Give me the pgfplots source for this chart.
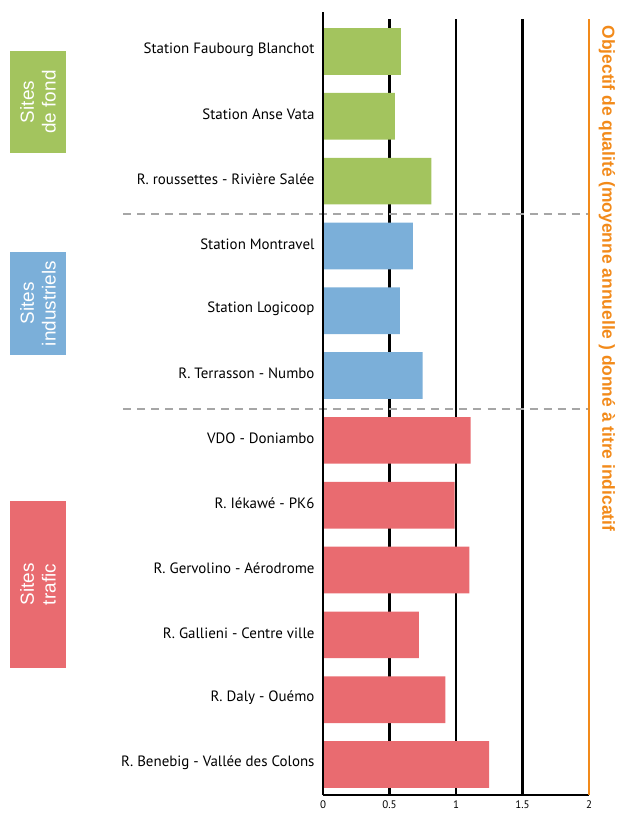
\documentclass[border=0pt]{standalone}
\usepackage{fontspec}
\setmainfont{PT Sans}
\newfontfamily\boxfont{Liberation Sans}
\usepackage{pgfplots}
\pgfplotsset{compat=1.18}
\definecolor{cfond}{HTML}{A3C45E}
\definecolor{cindus}{HTML}{7BAFD9}
\definecolor{ctrafic}{HTML}{E96B70}
\definecolor{corange}{HTML}{F28A1A}
\begin{document}
\begin{tikzpicture}
\begin{axis}[
  scale only axis,
  width=266bp, height=783bp,
  xmin=0, xmax=2,
  ymin=-0.4705, ymax=11.609,
  axis line style={draw=none},
  major tick length=0pt,
  xtick={0,0.5,1,1.5,2},
  xticklabels={0,0.5,1,1.5,2},
  xticklabel style={font=\fontsize{11}{12}\selectfont, yshift=-2bp},
  ytick={0,...,11},
  yticklabels={R. Benebig - Vallée des Colons, R. Daly - Ouémo, R. Gallieni - Centre ville, R. Gervolino - Aérodrome, R. Iékawé - PK6, VDO - Doniambo, R. Terrasson - Numbo, Station Logicoop, Station Montravel, R. roussettes - Rivière Salée, Station Anse Vata, Station Faubourg Blanchot},
  yticklabel style={font=\fontsize{15}{17}\selectfont, xshift=-5bp, yshift=2bp},
  xbar, bar width=46.7bp, bar shift=0pt,
  clip=false,
]
% grid lines and limits
\draw[black, line width=2.2bp] (axis cs:0.5,-0.4705) -- (axis cs:0.5,11.501);
\draw[black, line width=2.2bp] (axis cs:1,-0.4705) -- (axis cs:1,11.501);
\draw[black, line width=2.2bp] (axis cs:1.5,-0.4705) -- (axis cs:1.5,11.501);
\draw[gray!70, dashed, dash pattern=on 8bp off 6bp, line width=1.2bp] (axis cs:-1.5,8.493) -- (axis cs:2,8.493);
\draw[gray!70, dashed, dash pattern=on 8bp off 6bp, line width=1.2bp] (axis cs:-1.5,5.484) -- (axis cs:2,5.484);

\addplot[fill=cfond, draw=none] coordinates {(0.585,11) (0.54,10) (0.815,9)};
\addplot[fill=cindus, draw=none] coordinates {(0.675,8) (0.578,7) (0.75,6)};
\addplot[fill=ctrafic, draw=none] coordinates {(1.11,5) (0.99,4) (1.10,3) (0.72,2) (0.92,1) (1.25,0)};

\draw[black, line width=2.4bp] (axis cs:0,-0.4705) -- (axis cs:0,11.609);
\draw[black, line width=2.2bp] (axis cs:0,-0.4705) -- (axis cs:2,-0.4705);
\draw[corange, line width=2.2bp] (axis cs:2,-0.4705) -- (axis cs:2,11.501);
\end{axis}
% group boxes (picture coords: origin at lower left of plot area, 1bp = 1px)
\fill[cfond] (-313bp,642bp) rectangle (-257bp,744bp);
\node[text=white, rotate=90, align=center, font=\boxfont\fontsize{19}{22}\selectfont] at (-285bp,693bp) {Sites\\de fond};
\fill[cindus] (-313bp,440bp) rectangle (-257bp,543bp);
\node[text=white, rotate=90, align=center, font=\boxfont\fontsize{19}{22}\selectfont] at (-285bp,491.5bp) {Sites\\industriels};
\fill[ctrafic] (-313bp,127bp) rectangle (-257bp,294bp);
\node[text=white, rotate=90, align=center, font=\boxfont\fontsize{19}{22}\selectfont] at (-285bp,210.5bp) {Sites\\trafic};
\node[text=corange, rotate=-90, anchor=center, font=\boxfont\bfseries\fontsize{17.5}{20}\selectfont] at (284bp,516.5bp) {Objectif de qualité (moyenne annuelle ) donné à titre indicatif};
\pgfresetboundingbox
\path[use as bounding box] (-323bp,-19bp) rectangle (296bp,795bp);
\end{tikzpicture}
\end{document}
